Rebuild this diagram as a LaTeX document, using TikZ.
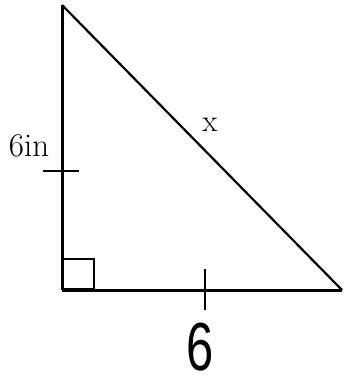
\documentclass[tikz,border=0pt]{standalone}
\usepackage{fontspec}
\newfontfamily\handfont{Liberation Sans}
\begin{document}
\begin{tikzpicture}[x=1pt,y=-1pt]
\tikzset{side/.style={black, line width=2.2pt},
         tick/.style={black, line width=1.6pt}}
\useasboundingbox (0,0) rectangle (346,381);

% Vertices (pixel units, y down)
\coordinate (Top)   at (62,5);
\coordinate (Right) at (62,290);
\coordinate (Far)   at (342,290);

% Triangle
\draw[side, line width=3pt] (Top) -- (Right);
\draw[side, line width=3pt] (Right) -- (Far);
\draw[side] (Top) -- (Far);

% Right angle mark
\draw[line width=2.4pt] (63,259) rectangle (94,289);

% Tick marks
\coordinate (LeftTick) at (62,171);
\coordinate (BotTick)  at (205,290);
\draw[tick] ([xshift=-19pt]LeftTick) -- ([xshift=17pt]LeftTick);
\draw[tick] ([yshift=21pt]BotTick) -- ([yshift=-20pt]BotTick);

% Labels
\node[font=\fontsize{33}{33}\selectfont] (sideLabel) at (29,146) {6in};
\node[font=\fontsize{31}{31}\selectfont] (hypLabel) at (210,125) {x};
\node[font=\handfont\fontsize{68}{68}\selectfont, xscale=0.72, inner sep=0pt] (baseLabel) at (200,347) {6};
\end{tikzpicture}
\end{document}
